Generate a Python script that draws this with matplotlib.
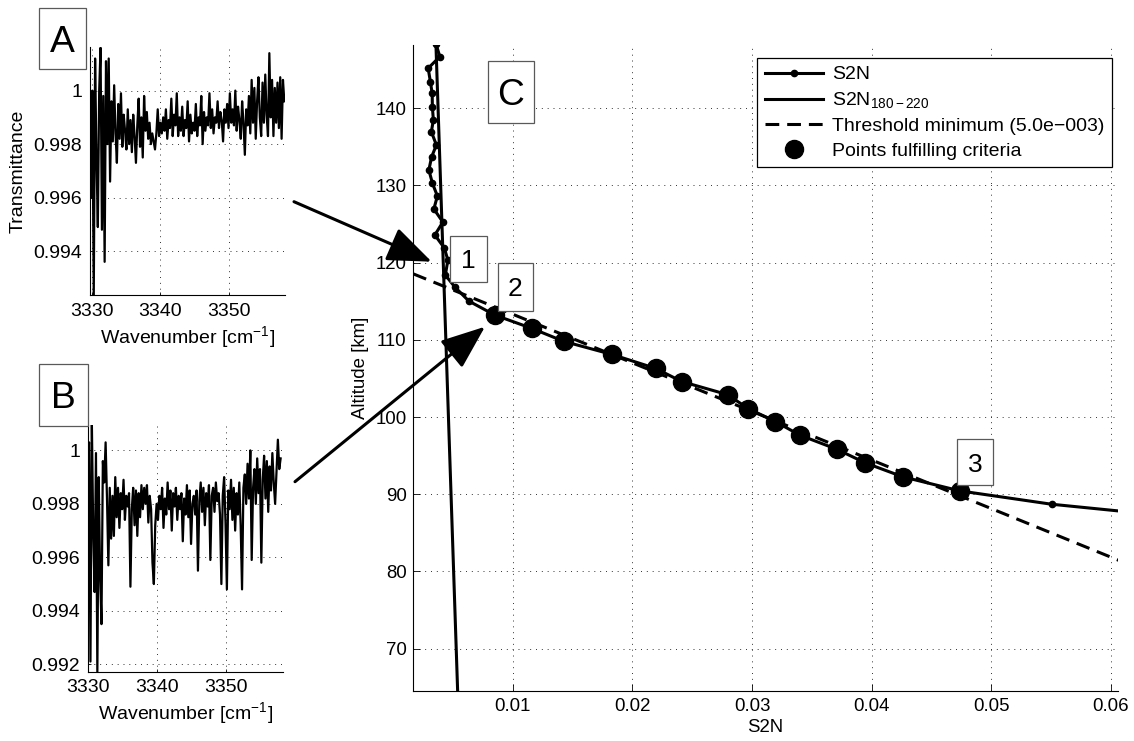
import numpy as np
import matplotlib
matplotlib.use('Agg')
import matplotlib.pyplot as plt
from matplotlib.patches import Rectangle, FancyArrowPatch

plt.rcParams['font.family'] = ['Liberation Sans', 'DejaVu Sans']
plt.rcParams['mathtext.fontset'] = 'custom'
plt.rcParams['mathtext.rm'] = 'Liberation Sans'
plt.rcParams['mathtext.it'] = 'Liberation Sans'

W, H = 1134, 741

# --- spectra A and B (transmittance, 0.2 cm-1 sampling) ---
wn_a_start = 3329.6
wn_b_start = 3330.0
wn_step = 0.2
trans_a = [
    0.9990, 0.9960, 1.0000, 0.9922, 1.0012, 0.9975, 0.9949, 1.0000, 1.0016, 0.9948,
    0.9998, 0.9936, 1.0011, 0.9980, 1.0012, 0.9966, 0.9996, 0.9981, 1.0002, 0.9984,
    0.9973, 0.9995, 0.9982, 0.9999, 0.9979, 0.9991, 0.9985, 0.9978, 0.9993, 0.9980,
    0.9989, 0.9977, 0.9991, 0.9983, 0.9973, 0.9987, 0.9997, 0.9979, 0.9990, 0.9975,
    0.9998, 0.9985, 0.9992, 0.9982, 0.9988, 0.9980, 0.9984, 0.9981, 0.9978, 0.9984,
    0.9993, 0.9983, 0.9988, 0.9984, 0.9990, 0.9985, 0.9993, 0.9982, 0.9989, 0.9986,
    0.9997, 0.9983, 0.9991, 0.9987, 0.9999, 0.9983, 0.9990, 0.9985, 0.9994, 0.9983,
    0.9989, 0.9986, 0.9996, 0.9981, 0.9991, 0.9984, 0.9988, 0.9985, 0.9995, 0.9983,
    0.9990, 0.9987, 0.9998, 0.9980, 0.9992, 0.9985, 0.9990, 0.9987, 0.9999, 0.9986,
    0.9993, 0.9984, 0.9990, 0.9988, 0.9996, 0.9986, 0.9992, 0.9989, 0.9981, 0.9993,
    0.9988, 0.9995, 0.9986, 0.9999, 0.9988, 0.9993, 0.9987, 1.0000, 0.9985, 0.9994,
    0.9989, 0.9982, 0.9996, 0.9988, 0.9976, 0.9993, 0.9987, 0.9998, 0.9984, 1.0004,
    0.9988, 1.0001, 0.9982, 0.9996, 1.0005, 0.9990, 0.9983, 1.0003, 0.9988, 1.0006,
    0.9991, 0.9983, 1.0014, 0.9990, 1.0004, 0.9983, 1.0001, 0.9988, 1.0003, 0.9986,
    1.0005, 0.9982, 1.0004, 0.9996,
]
trans_b = [
    0.9996, 1.0003, 0.9921, 1.0011, 0.9970, 0.9947, 0.9999, 0.9917, 0.9990, 0.9953,
    0.9935, 0.9996, 0.9988, 1.0003, 0.9982, 0.9957, 0.9986, 0.9967, 0.9983, 0.9968,
    0.9990, 0.9975, 0.9986, 0.9971, 0.9984, 0.9978, 0.9989, 0.9974, 0.9983, 0.9979,
    0.9984, 0.9949, 0.9978, 0.9986, 0.9972, 0.9985, 0.9968, 0.9984, 0.9975, 0.9987,
    0.9978, 0.9986, 0.9980, 0.9987, 0.9973, 0.9983, 0.9978, 0.9958, 0.9950, 0.9972,
    0.9980, 0.9974, 0.9983, 0.9978, 0.9986, 0.9971, 0.9982, 0.9976, 0.9988, 0.9978,
    0.9985, 0.9970, 0.9984, 0.9979, 0.9986, 0.9974, 0.9983, 0.9978, 0.9984, 0.9966,
    0.9982, 0.9976, 0.9987, 0.9975, 0.9985, 0.9965, 0.9980, 0.9983, 0.9976, 0.9985,
    0.9955, 0.9981, 0.9988, 0.9977, 0.9986, 0.9972, 0.9984, 0.9979, 0.9987, 0.9959,
    0.9983, 0.9986, 0.9977, 0.9988, 0.9981, 0.9984, 0.9976, 0.9950, 0.9983, 0.9990,
    0.9973, 0.9948, 0.9985, 0.9978, 0.9989, 0.9974, 0.9986, 0.9970, 0.9984, 0.9976,
    0.9988, 0.9972, 0.9948, 0.9986, 0.9991, 0.9980, 0.9995, 0.9982, 1.0000, 0.9959,
    0.9986, 0.9993, 0.9980, 0.9997, 0.9984, 0.9993, 0.9958, 0.9989, 0.9998, 0.9982,
    0.9996, 0.9977, 0.9994, 0.9985, 0.9999, 0.9988, 0.9980, 0.9992, 1.0004, 0.9993,
    0.9997,
]

# --- S2N profile ---
s2n_alt = [148.39, 146.69, 145.19, 143.45, 141.94, 140.21, 138.48, 136.97, 135.24, 133.68,
           132.00, 130.32, 128.63, 126.95, 125.26, 123.58, 121.89, 120.33, 118.39, 116.84,
           115.02, 113.2, 111.5, 109.8, 108.1, 106.3, 104.6, 102.9, 101.1, 99.4,
           97.65, 95.8, 94.06, 92.24, 90.43, 88.7, 86.95]
s2n_val = [0.003562, 0.003896, 0.002918, 0.003102, 0.003253, 0.003269, 0.003353, 0.003186,
           0.003604, 0.003202, 0.002977, 0.003269, 0.003687, 0.003395, 0.004147, 0.003478,
           0.004273, 0.004565, 0.004356, 0.005151, 0.006321, 0.00850, 0.01156, 0.01426,
           0.01830, 0.02193, 0.02411, 0.02795, 0.02967, 0.03196, 0.03400, 0.03712, 0.03946,
           0.04263, 0.04737, 0.05504, 0.0663]
crit_alt = [113.2, 111.5, 109.8, 108.1, 106.3, 104.6, 102.9, 101.1, 99.4, 97.65,
            95.8, 94.06, 92.24, 90.43]
crit_val = [0.00850, 0.01156, 0.01426, 0.01830, 0.02193, 0.02411, 0.02795, 0.02967,
            0.03196, 0.03400, 0.03712, 0.03946, 0.04263, 0.04737]
ref_alt = [150.0, 60.0]
ref_val = [0.00353, 0.00548]
thr_val = [0.0, 0.065]
thr_alt = [119.6, 78.7]


def fig_rect(px0, py0, px1, py1):
    return [px0 / W, 1 - py1 / H, (px1 - px0) / W, (py1 - py0) / H]


def matlab_style(ax, fs, ticklen):
    ax.spines['top'].set_visible(False)
    ax.spines['right'].set_visible(False)
    for s in ['left', 'bottom']:
        ax.spines[s].set_linewidth(0.8)
    ax.tick_params(direction='in', length=ticklen, width=0.6, labelsize=fs)
    ax.grid(True, color='0.2', linestyle=(0, (1, 5)), linewidth=0.7)
    ax.set_axisbelow(True)


def label_box(fig, px0, py0, px1, py1, txt, fs):
    r = fig_rect(px0, py0, px1, py1)
    fig.add_artist(Rectangle((r[0], r[1]), r[2], r[3], transform=fig.transFigure,
                             facecolor='white', edgecolor='0.35', linewidth=0.9))
    fig.text((px0 + px1) / 2 / W, 1 - (py0 + py1) / 2 / H, txt, fontsize=fs,
             ha='center', va='center_baseline')


fig = plt.figure(figsize=(W / 100, H / 100), dpi=100)

# panel A
ax_a = fig.add_axes(fig_rect(90, 47, 285, 295))
wn_a = wn_a_start + wn_step * np.arange(len(trans_a))
ax_a.plot(wn_a, trans_a, color='k', lw=1.6)
ax_a.set_xlim(3329.65, 3358.3)
ax_a.set_ylim(0.99236, 1.00163)
ax_a.set_xticks([3330, 3340, 3350])
ax_a.set_yticks([0.994, 0.996, 0.998, 1.0])
ax_a.set_yticklabels(['0.994', '0.996', '0.998', '1'])
matlab_style(ax_a, 14, 2.5)
ax_a.tick_params(axis='y', pad=5.5)
ax_a.tick_params(axis='x', pad=5.5)
ax_a.set_ylabel('Transmittance', fontsize=14, labelpad=5)
ax_a.set_xlabel('Wavenumber [cm$^{-1}$]', fontsize=14, labelpad=3)

# panel B
ax_b = fig.add_axes(fig_rect(87.7, 425, 282.7, 671.7))
wn_b = wn_b_start + wn_step * np.arange(len(trans_b))
ax_b.plot(wn_b, trans_b, color='k', lw=1.6)
ax_b.set_xlim(3330.0, 3358.3)
ax_b.set_ylim(0.99172, 1.00095)
ax_b.set_xticks([3330, 3340, 3350])
ax_b.set_yticks([0.992, 0.994, 0.996, 0.998, 1.0])
ax_b.set_yticklabels(['0.992', '0.994', '0.996', '0.998', '1'])
matlab_style(ax_b, 14, 2.5)
ax_b.tick_params(axis='y', pad=5.5)
ax_b.tick_params(axis='x', pad=5.5)
ax_b.set_xlabel('Wavenumber [cm$^{-1}$]', fontsize=14, labelpad=3)

# panel C
ax_c = fig.add_axes(fig_rect(413, 45, 1118, 691))
ax_c.plot(s2n_val, s2n_alt, color='k', lw=2.2, marker='o', ms=4.5, label='S2N')
ax_c.plot(ref_val, ref_alt, color='k', lw=2.2, label=r'S2N$_{180-220}$')
ax_c.plot(thr_val, thr_alt, color='k', lw=2.2, linestyle=(0, (4.5, 2.6)),
          label='Threshold minimum (5.0e\u2212003)')
ax_c.plot(crit_val, crit_alt, 'o', color='k', ms=13, ls='none',
          label='Points fulfilling criteria')
ax_c.set_xlim(0.00165, 0.0606)
ax_c.set_ylim(64.5, 148.2)
ax_c.set_xticks([0.01, 0.02, 0.03, 0.04, 0.05, 0.06])
ax_c.set_xticklabels(['0.01', '0.02', '0.03', '0.04', '0.05', '0.06'])
ax_c.set_yticks([70, 80, 90, 100, 110, 120, 130, 140])
matlab_style(ax_c, 13.4, 5)
ax_c.tick_params(axis='y', pad=4.5)
ax_c.tick_params(axis='x', pad=5)
ax_c.set_xlabel('S2N', fontsize=13.4, labelpad=3)
ax_c.set_ylabel('Altitude [km]', fontsize=13.4, labelpad=5)

leg = ax_c.legend(loc='upper right', bbox_to_anchor=(1112 / W, 1 - 58 / H),
                  bbox_transform=fig.transFigure, fontsize=14, numpoints=1,
                  handlelength=3.0, handletextpad=0.45, labelspacing=0.36,
                  borderaxespad=0, fancybox=False, framealpha=1, borderpad=0.4)
leg.get_frame().set_edgecolor('k')
leg.get_frame().set_linewidth(0.9)

# label boxes
label_box(fig, 39, 8, 86, 69, 'A', 26.8)
label_box(fig, 39, 364, 88, 426, 'B', 26.8)
label_box(fig, 487.7, 60.7, 533.7, 122.7, 'C', 26.8)
label_box(fig, 450, 236, 486.7, 281.7, '1', 19)
label_box(fig, 498, 263, 532.7, 311, '2', 19)
label_box(fig, 957, 439, 993, 485, '3', 19)

# arrows from spectra to the profile
for tail, tip in [((294, 201.7), (431.7, 261.7)), ((295, 481.7), (485, 326.7))]:
    arr = FancyArrowPatch((tail[0] / W, 1 - tail[1] / H), (tip[0] / W, 1 - tip[1] / H),
                          transform=fig.transFigure,
                          arrowstyle='-|>,head_length=2.74,head_width=1.08',
                          mutation_scale=10, lw=2.2, color='k', shrinkA=0, shrinkB=0)
    fig.add_artist(arr)

fig.savefig('out.png', dpi=100)
